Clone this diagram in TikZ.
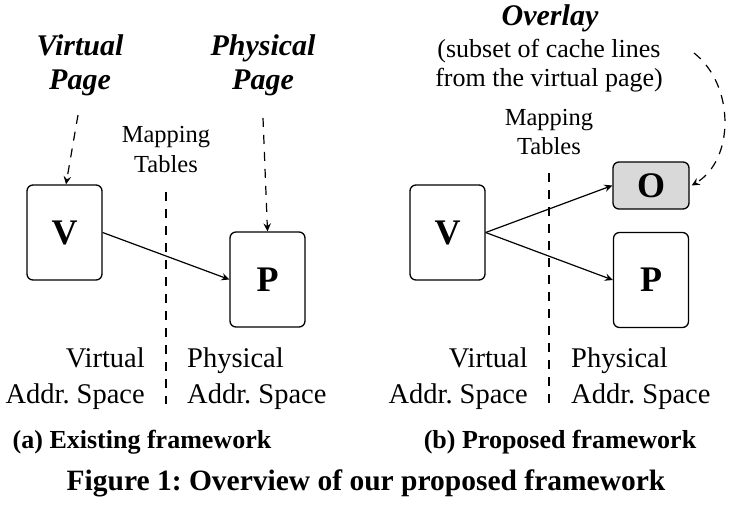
\documentclass[tikz,border=0pt]{standalone}
\usepackage{fontspec}
\setmainfont{Liberation Serif}
\usetikzlibrary{arrows.meta}
\begin{document}
\frenchspacing
\begin{tikzpicture}[x=1pt,y=-1pt,
  tip/.tip={Stealth[length=8pt,width=7.5pt,inset=2.8pt]},
  pagebox/.style={draw,line width=1.3pt,rounded corners=6pt,minimum width=75pt,minimum height=95pt,inner sep=0pt,font=\fontsize{36}{40}\selectfont\bfseries},
  ovbox/.style={draw,line width=1.3pt,rounded corners=6pt,minimum width=76pt,minimum height=47pt,inner sep=0pt,fill=black!15,font=\fontsize{36}{40}\selectfont\bfseries},
  maparrow/.style={-tip,line width=1.2pt},
  dasharrow/.style={-tip,line width=1.2pt,dash pattern=on 9pt off 8pt},
  divider/.style={line width=1.2pt,dash pattern=on 9pt off 8pt},
  bi/.style={font=\fontsize{30}{34}\selectfont\bfseries\itshape,align=center,inner sep=0pt},
  small/.style={font=\fontsize{24.5}{30}\selectfont,align=center,inner sep=0pt},
  body/.style={font=\fontsize{28.5}{36}\selectfont,inner sep=0pt},
  sub/.style={font=\fontsize{26}{30}\selectfont,align=center,inner sep=0pt},
  subcap/.style={font=\fontsize{26}{30}\selectfont\bfseries,inner sep=0pt},
  figcap/.style={font=\fontsize{29.5}{34}\selectfont\bfseries,inner sep=0pt}]
\useasboundingbox (0,0) rectangle (733,506);

% ---------- (a) ----------
\node[pagebox] (V1) at (64.5,232.5) {V};
\node[pagebox] (P1) at (267.5,279.5) {P};
\node[bi,anchor=base] (vp1) at (80,55) {Virtual};
\node[bi,anchor=base] (vp2) at (80,89) {Page};
\node[bi,anchor=base] (pp1) at (263,55) {Physical};
\node[bi,anchor=base] (pp2) at (263,89) {Page};
\node[small,anchor=base] (mt1) at (166,142) {Mapping};
\node[small,anchor=base] (mt2) at (166,172) {Tables};
\coordinate (d1a) at (166,192);
\coordinate (d1b) at (166,404);
\draw[divider] (d1a) -- (d1b);
\coordinate (vps) at (78,115);
\coordinate (pps) at (263,118);
\draw[dasharrow] (vps) -- ([xshift=1.5pt]V1.north);
\draw[dasharrow] (pps) -- (P1.north);
\draw[maparrow] (V1.east) -- (P1.west);
\node[body,anchor=base east] (va1) at (145,367) {Virtual};
\node[body,anchor=base east] (va2) at (145,403) {Addr. Space};
\node[body,anchor=base west] (pa1) at (187,367) {Physical};
\node[body,anchor=base west] (pa2) at (187,403) {Addr. Space};
\node[subcap,anchor=base] (capa) at (142,448) {(a) Existing framework};

% ---------- (b) ----------
\node[pagebox] (V2) at (447.5,232.5) {V};
\node[ovbox] (O2) at (651,185.5) {O};
\node[pagebox] (P2) at (651,280) {P};
\node[bi,anchor=base] (ov) at (550,25) {Overlay};
\node[sub,anchor=base] (ov1) at (549,57) {(subset of cache lines};
\node[sub,anchor=base] (ov2) at (549,86) {from the virtual page)};
\node[small,anchor=base] (mt3) at (549,125) {Mapping};
\node[small,anchor=base] (mt4) at (549,154) {Tables};
\coordinate (d2a) at (549,173);
\coordinate (d2b) at (549,404);
\draw[divider] (d2a) -- (d2b);
\draw[maparrow] (V2.east) -- (O2.west);
\draw[maparrow] (V2.east) -- (P2.west);
\coordinate (ovs) at (694,53);
\draw[dasharrow] (ovs) .. controls (735,85) and (735,160) .. ([xshift=2pt]O2.east);
\node[body,anchor=base east] (va3) at (528,367) {Virtual};
\node[body,anchor=base east] (va4) at (528,403) {Addr. Space};
\node[body,anchor=base west] (pa3) at (571,367) {Physical};
\node[body,anchor=base west] (pa4) at (571,403) {Addr. Space};
\node[subcap,anchor=base] (capb) at (560,448) {(b) Proposed framework};

\node[figcap,anchor=base] (fig) at (366,490) {Figure 1: Overview of our proposed framework};
\end{tikzpicture}
\end{document}
